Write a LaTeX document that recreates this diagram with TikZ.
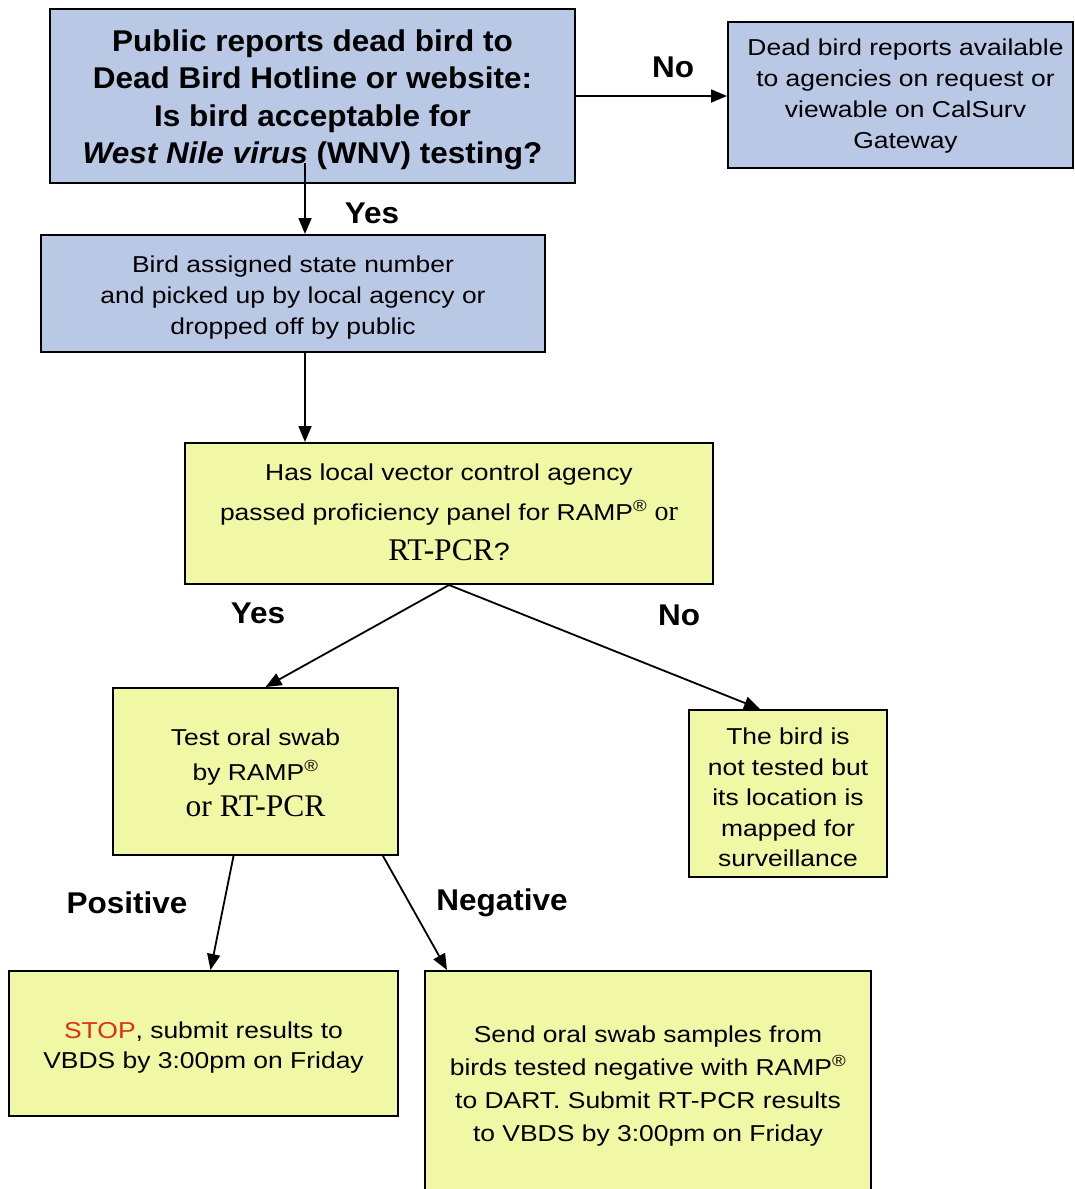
\documentclass[tikz,border=0pt]{standalone}
\usepackage{fontspec}
\setmainfont{Liberation Sans}[FakeStretch=1.15]
\newfontfamily\hdfont{Liberation Sans}[FakeStretch=1.05]
\newfontfamily\serf{Liberation Serif}
\usetikzlibrary{arrows.meta,calc}
\definecolor{boxblue}{RGB}{185,201,229}
\definecolor{boxyellow}{RGB}{240,247,165}
\definecolor{stopred}{RGB}{222,48,20}
\begin{document}
\begin{tikzpicture}[x=1pt,y=-1pt,
  box/.style={draw=black, line width=2pt, inner sep=0pt},
  bluebox/.style={box, fill=boxblue},
  yelbox/.style={box, fill=boxyellow},
  boxtext/.style={align=center, inner sep=0pt},
  lbl/.style={font=\hdfont\bfseries\fontsize{30}{36}\selectfont, inner sep=0pt},
  conn/.style={line width=1.8pt, -{Triangle[length=16pt,width=13pt]}}]
\useasboundingbox (0,0) rectangle (1075,1189);

% boxes
\node[bluebox, minimum width=525pt, minimum height=174pt] (A) at (312.5,96) {};
\node[bluebox, minimum width=345pt, minimum height=146pt] (B) at (900.5,95) {};
\node[bluebox, minimum width=504pt, minimum height=117pt] (C) at (293,293.5) {};
\node[yelbox, minimum width=528pt, minimum height=141pt] (D) at (449,513.5) {};
\node[yelbox, minimum width=285pt, minimum height=167pt] (E) at (255.5,771.5) {};
\node[yelbox, minimum width=198pt, minimum height=167pt] (F) at (788,793.5) {};
\node[yelbox, minimum width=389pt, minimum height=145pt] (G) at (203.5,1043.5) {};
\node[yelbox, minimum width=446pt, minimum height=226pt] (H) at (648,1084) {};

% box texts
\node[boxtext, font=\hdfont\bfseries\fontsize{30}{37.5}\selectfont] (At) at ($(A)+(0,4)$)
  {Public reports dead bird to\\Dead Bird Hotline or website:\\Is bird acceptable for\\\textit{West Nile virus} (WNV) testing?};
\node[boxtext, font=\fontsize{23}{31}\selectfont] (Bt) at ($(B)+(5,1)$)
  {Dead bird reports available\\to agencies on request or\\viewable on CalSurv\\Gateway};
\node[boxtext, font=\fontsize{23}{31}\selectfont] (Ct) at ($(C)+(0,4)$)
  {Bird assigned state number\\and picked up by local agency or\\dropped off by public};
\node[boxtext, font=\fontsize{23}{40}\selectfont] (Dt) at ($(D)+(0,-1)$)
  {Has local vector control agency\\passed proficiency panel for RAMP\textsuperscript{®} {\serf\fontsize{28}{40}\selectfont or}\\{\serf\fontsize{31.5}{40}\selectfont RT-PCR}{\fontsize{25}{40}\selectfont ?}};
\node[boxtext, font=\fontsize{23}{35.5}\selectfont] (Et) at ($(E)+(0,1)$)
  {Test oral swab\\by RAMP\textsuperscript{®}\\{\serf\fontsize{31.5}{35.5}\selectfont or RT-PCR}};
\node[boxtext, font=\fontsize{23}{30.5}\selectfont] (Ft) at ($(F)+(0,4)$)
  {The bird is\\not tested but\\its location is\\mapped for\\surveillance};
\node[boxtext, font=\fontsize{23}{30}\selectfont] (Gt) at ($(G)+(0,4)$)
  {\textcolor{stopred}{STOP}, submit results to\\VBDS by 3:00pm on Friday};
\node[boxtext, font=\fontsize{23}{32.7}\selectfont] (Ht) at ($(H)+(0,2)$)
  {Send oral swab samples from\\birds tested negative with RAMP\textsuperscript{®}\\to DART. Submit RT-PCR results\\to VBDS by 3:00pm on Friday};

% connectors
\coordinate (a1) at (305,163);
\draw[conn] (A.east) -- (A.east -| B.west);
\draw[conn] (a1) -- (a1 |- C.north);
\draw[conn] (C.south -| a1) -- (D.north -| a1);
\draw[conn] (D.south) -- ($(E.north)+(10,0)$);
\draw[conn] (D.south) -- ($(F.north)+(-28,0)$);
\draw[conn] ($(E.south)+(-22,0)$) -- ($(G.north)+(7,0)$);
\draw[conn] ($(E.south)+(127.5,0)$) -- ($(H.north west)+(23,0)$);

% labels
\node[lbl] (nA) at (673,67) {No};
\node[lbl] (yA) at (372,213) {Yes};
\node[lbl] (yD) at (258,613) {Yes};
\node[lbl] (nD) at (679,615) {No};
\node[lbl] (pE) at (127,903) {Positive};
\node[lbl] (nE) at (502,903) {Negative};
\end{tikzpicture}
\end{document}
